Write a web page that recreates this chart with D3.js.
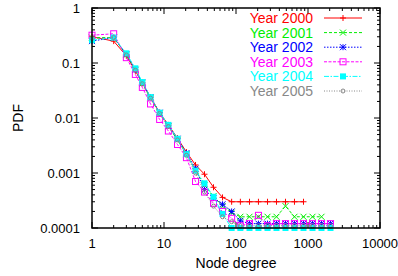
<!DOCTYPE html>
<html>
<head>
<meta charset="utf-8">
<script src="https://cdn.jsdelivr.net/npm/d3@7"></script>
<style>
body { margin: 0; background: #fff; }
svg text { font-family: "Liberation Sans", Arial, Helvetica, sans-serif; }
</style>
</head>
<body>
<svg id="chart" width="398" height="276"></svg>
<script>
// degree bins (log binned, ~8 per decade above 5)
var degrees = [1, 2, 3, 4, 5, 6.5, 8.7, 11.5, 15.4, 20.5, 27.4, 36.5, 48.7, 65, 87, 115, 154, 205, 274, 365, 487, 649, 866, 1155, 1540, 2054];

var pdf2000 = [0.30, 0.25, 0.135, 0.072, 0.043, 0.024, 0.0125, 0.0075, 0.0043, 0.0024, 0.0014, 0.00095, 0.00055, 0.00036, 0.0003, 0.0003, 0.0003, 0.0003, 0.0003, 0.0003, 0.0003, 0.0003, 0.0003];
var pdf2001 = [0.29, 0.29, 0.14, 0.075, 0.042, 0.023, 0.012, 0.007, 0.004, 0.0022, 0.0011, 0.0006, 0.00038, 0.00025, 0.00019, 0.00016, 0.00016, 0.00016, 0.00016, 0.00016, 0.00025, 0.00016, 0.00016, 0.00016, 0.00016];
var pdf2002 = [0.25, 0.29, 0.145, 0.075, 0.044, 0.024, 0.0125, 0.0072, 0.0042, 0.0023, 0.0012, 0.0005, 0.00035, 0.00027, 0.0002, 0.000135, 0.00012, 0.00012, 0.00012, 0.00012, 0.00012, 0.00012, 0.00012, 0.00012, 0.00012, 0.00012];
var pdf2003 = [0.32, 0.34, 0.125, 0.062, 0.036, 0.018, 0.0094, 0.0058, 0.0033, 0.0019, 0.0007, 0.00045, 0.00028, 0.0002, 0.00015, 0.00011, 0.00012, 0.00017, 0.00011, 0.00012, 0.00012, 0.00012, 0.00012, 0.00012, 0.00012, 0.00012];
var pdf2004 = [0.26, 0.29, 0.15, 0.08, 0.045, 0.024, 0.0125, 0.0075, 0.0042, 0.0022, 0.0011, 0.00065, 0.00037, 0.00018, 0.0001, 0.0001, 0.0001, 0.0001, 0.0001, 0.0001, 0.0001, 0.0001, 0.0001, 0.0001, 0.0001, 0.0001];
var pdf2005 = [0.28, 0.29, 0.14, 0.074, 0.042, 0.023, 0.012, 0.007, 0.004, 0.0021, 0.001, 0.00045, 0.00025, 0.00016, 0.00013, 0.00011, 0.00011, 0.00011, 0.00011, 0.00011, 0.00011, 0.00011, 0.00011, 0.00011, 0.00011, 0.00011];

var years = ["Year 2000", "Year 2001", "Year 2002", "Year 2003", "Year 2004", "Year 2005"];
var xTicks = [1, 10, 100, 1000, 10000];
var yTicks = [0.0001, 0.001, 0.01, 0.1, 1];

var colors = ["#ff0000", "#00ee00", "#0000ff", "#ff00ff", "#00ffff", "#888888"];
var dashes = [null, "3,2", "1.5,1.5", "3,1.5", "5,1.5,1.5,1.5", "1,1.5"];
var shapes = ["plus", "cross", "star", "square", "fsquare", "circle"];

var series = [pdf2000, pdf2001, pdf2002, pdf2003, pdf2004, pdf2005].map(function(p, i) {
    return { name: years[i], pts: p.map(function(v, j) { return [degrees[j], v]; }) };
});

var svg = d3.select("#chart");
var plotL = 92, plotR = 380, plotT = 8, plotB = 228;

var x = d3.scaleLog().domain([1, 10000]).range([plotL, plotR]);
var y = d3.scaleLog().domain([0.0001, 1]).range([plotB, plotT]);

// minor ticks 2..9 in every decade
function minors(lo, hi) {
    var out = [];
    for (var e = lo; e < hi; e++)
        for (var k = 2; k <= 9; k++) out.push(k * Math.pow(10, e));
    return out;
}
var xMinor = minors(0, 4), yMinor = minors(-4, 0);

var g = svg.append("g");

// tick marks, inside on all four sides
function tickLines(vals, len, horiz) {
    vals.forEach(function(v) {
        if (horiz) {
            g.append("line").attr("x1", x(v)).attr("x2", x(v)).attr("y1", plotB).attr("y2", plotB - len);
            g.append("line").attr("x1", x(v)).attr("x2", x(v)).attr("y1", plotT).attr("y2", plotT + len);
        } else {
            g.append("line").attr("y1", y(v)).attr("y2", y(v)).attr("x1", plotL).attr("x2", plotL + len);
            g.append("line").attr("y1", y(v)).attr("y2", y(v)).attr("x1", plotR).attr("x2", plotR - len);
        }
    });
}
tickLines(xMinor, 3, true);
tickLines(xTicks, 6, true);
tickLines(yMinor, 3, false);
tickLines(yTicks, 6, false);
g.selectAll("line").attr("stroke", "#000").attr("stroke-width", 1);

g.selectAll(".xl").data(xTicks).enter().append("text")
    .attr("x", function(d) { return x(d); })
    .attr("y", 248)
    .attr("text-anchor", "middle")
    .attr("font-size", 13)
    .text(function(d) { return d; });

g.selectAll(".yl").data(yTicks).enter().append("text")
    .attr("x", 80)
    .attr("y", function(d) { return y(d) + 5; })
    .attr("text-anchor", "end")
    .attr("font-size", 13)
    .text(function(d) { return d; });

svg.append("text").attr("x", 236).attr("y", 268).attr("text-anchor", "middle")
    .attr("font-size", 14).text("Node degree");
svg.append("text").attr("transform", "translate(23,118) rotate(-90)").attr("text-anchor", "middle")
    .attr("font-size", 14).text("PDF");

var line = d3.line().x(function(d) { return x(d[0]); }).y(function(d) { return y(d[1]); });

function marker(sel, shape, color) {
    var s = 3;
    if (shape == "plus" || shape == "star") {
        sel.append("path").attr("d", "M" + (-s) + ",0H" + s + "M0," + (-s) + "V" + s)
            .attr("stroke", color).attr("fill", "none");
    }
    if (shape == "cross" || shape == "star") {
        sel.append("path").attr("d", "M" + (-s) + "," + (-s) + "L" + s + "," + s + "M" + (-s) + "," + s + "L" + s + "," + (-s))
            .attr("stroke", color).attr("fill", "none");
    }
    if (shape == "square") {
        sel.append("rect").attr("x", -s).attr("y", -s).attr("width", 2 * s).attr("height", 2 * s)
            .attr("stroke", color).attr("fill", "none");
    }
    if (shape == "fsquare") {
        sel.append("rect").attr("x", -s).attr("y", -s).attr("width", 2 * s).attr("height", 2 * s)
            .attr("fill", color);
    }
    if (shape == "circle") {
        sel.append("circle").attr("r", 2).attr("stroke", color).attr("fill", "none");
    }
}

series.forEach(function(s, i) {
    var sg = svg.append("g");
    sg.append("path").datum(s.pts).attr("d", line)
        .attr("fill", "none").attr("stroke", colors[i]).attr("stroke-width", 1)
        .attr("stroke-dasharray", dashes[i]);
    sg.selectAll(".m").data(s.pts).enter().append("g")
        .attr("transform", function(d) { return "translate(" + x(d[0]) + "," + y(d[1]) + ")"; })
        .each(function() { marker(d3.select(this), shapes[i], colors[i]); });

    // legend entry
    var ly = 18 + i * 14.6;
    svg.append("text").attr("x", 313).attr("y", ly + 5).attr("text-anchor", "end")
        .attr("font-size", 14).attr("fill", colors[i]).text(s.name);
    svg.append("line").attr("x1", 324).attr("x2", 362).attr("y1", ly).attr("y2", ly)
        .attr("stroke", colors[i]).attr("stroke-dasharray", dashes[i]);
    marker(svg.append("g").attr("transform", "translate(343," + ly + ")"), shapes[i], colors[i]);
});

// frame
svg.append("rect").attr("x", plotL).attr("y", plotT).attr("width", plotR - plotL).attr("height", plotB - plotT)
    .attr("fill", "none").attr("stroke", "#000").attr("stroke-width", 1.5);
</script>
</body>
</html>
